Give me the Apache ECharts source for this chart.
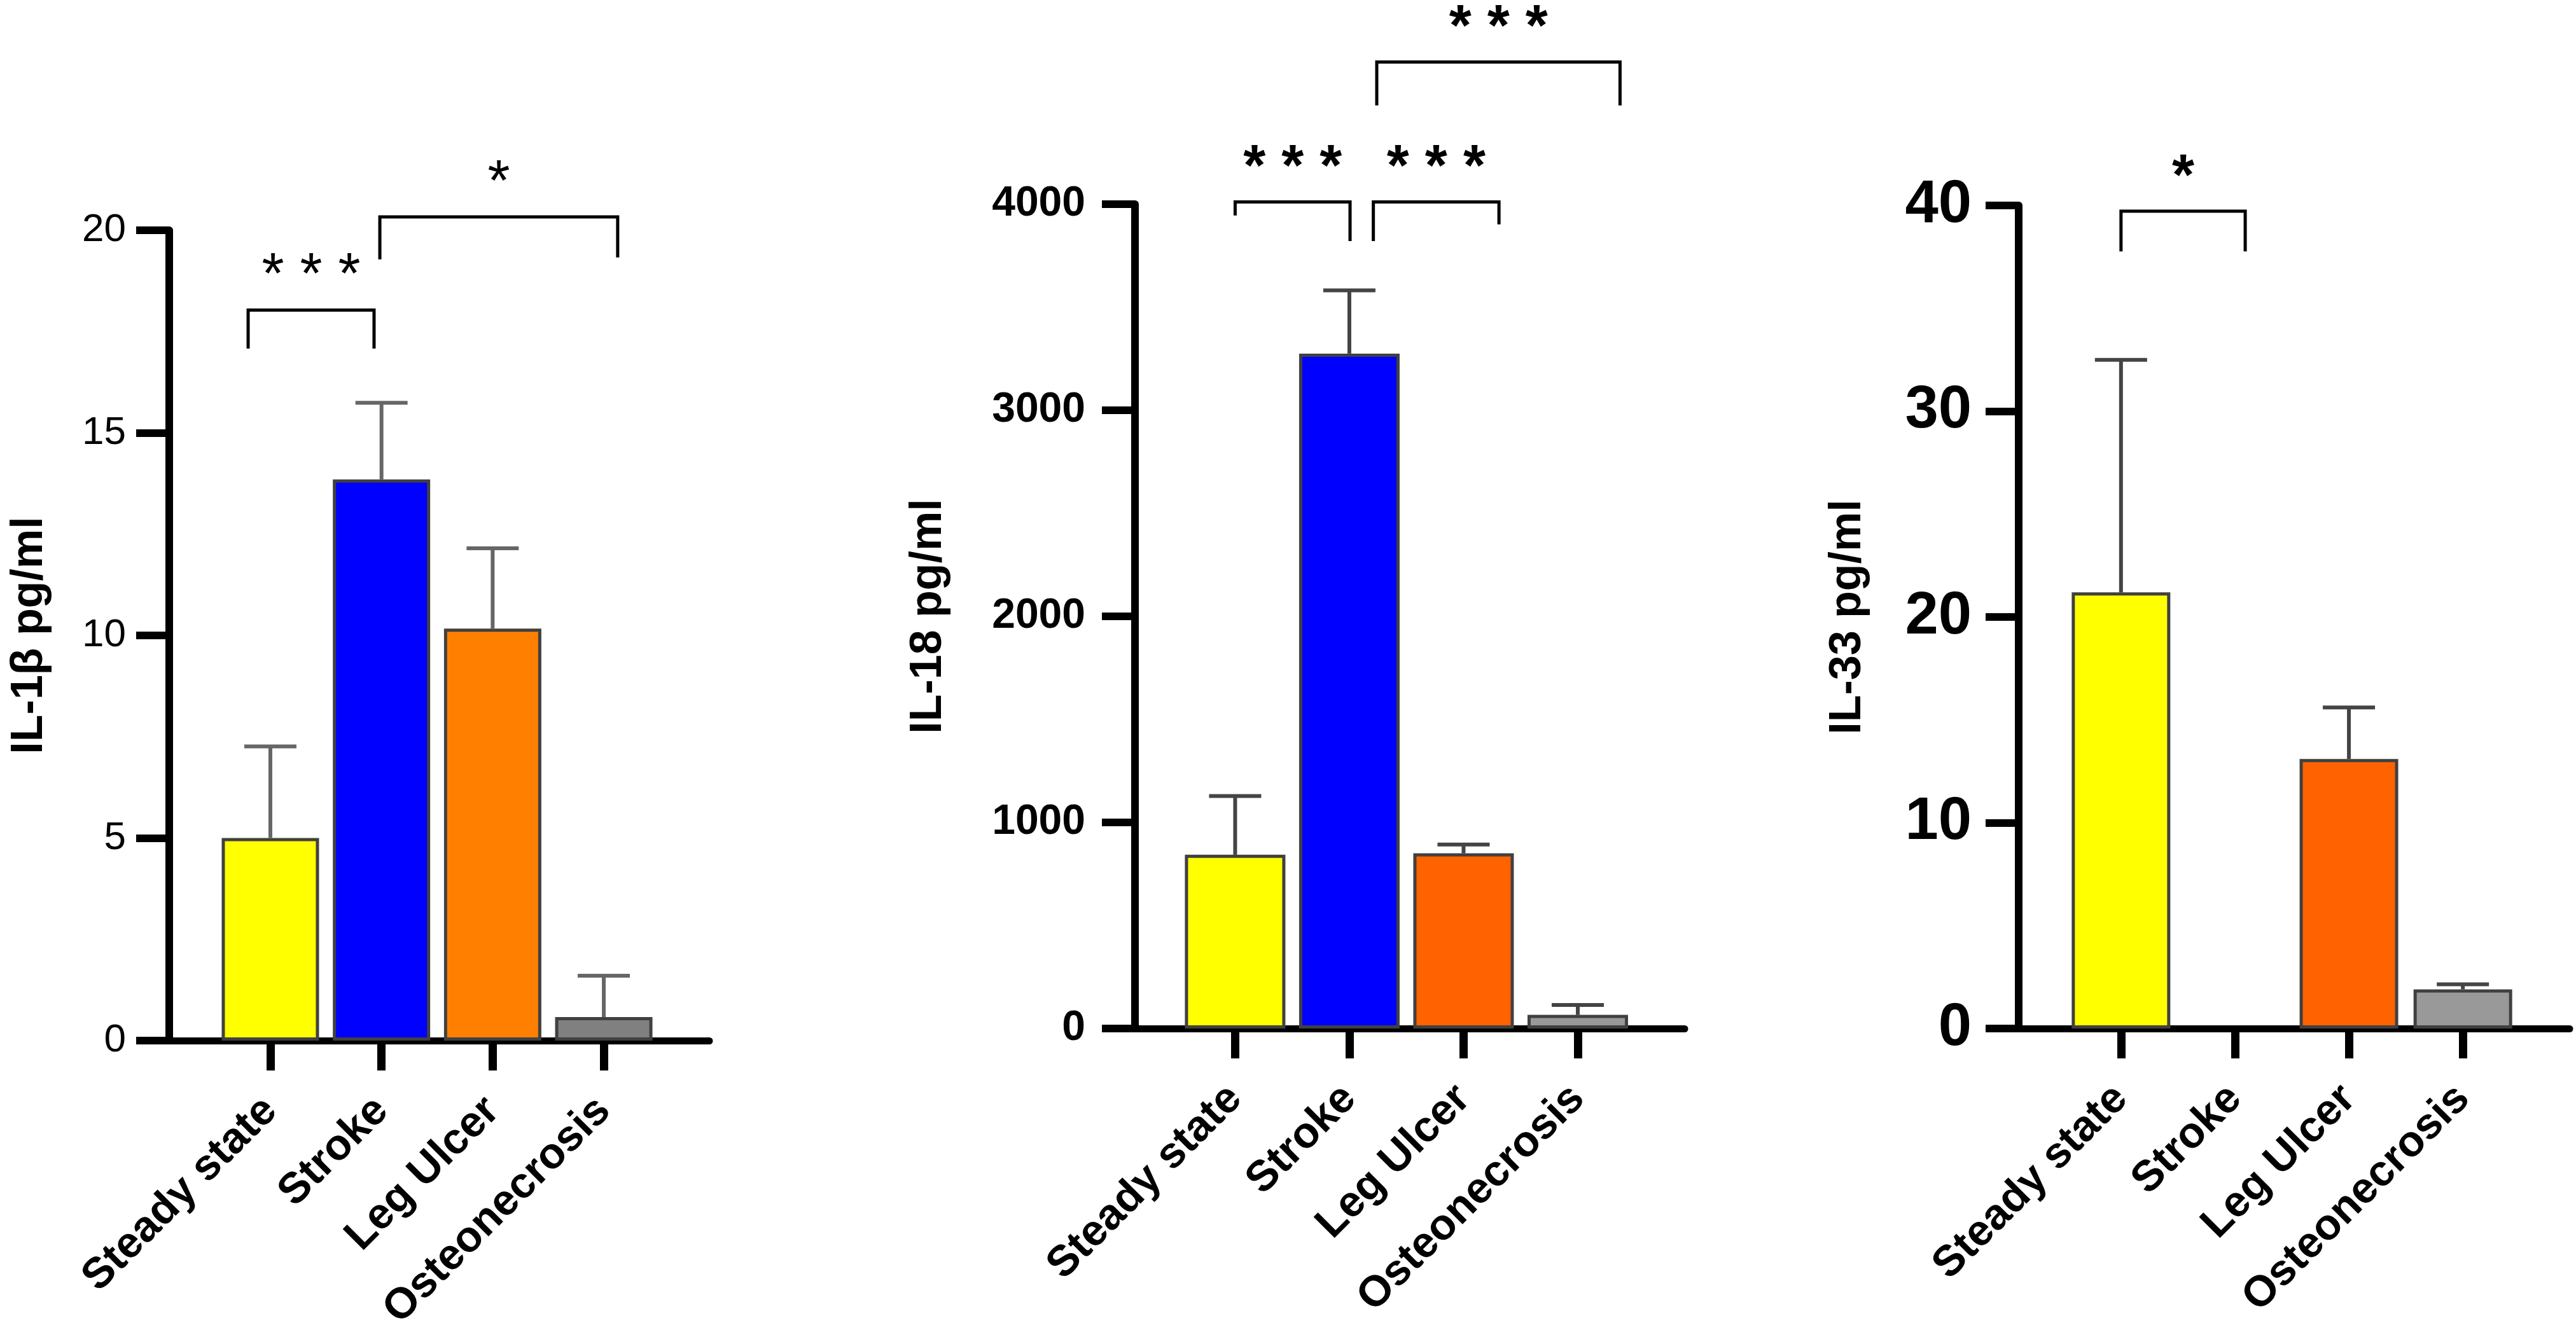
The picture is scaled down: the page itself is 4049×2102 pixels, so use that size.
<!DOCTYPE html>
<html>
<head>
<meta charset="utf-8">
<title>IL-1β / IL-18 / IL-33</title>
<script src="https://cdn.jsdelivr.net/npm/echarts@6/dist/echarts.min.js"></script>
<style>
  html, body { margin: 0; padding: 0; background: #fff; }
  #chart { width: 4049px; height: 2102px; }
</style>
</head>
<body>
<div id="chart"></div>
<script>
// --- data ---
const categories = ['Steady state', 'Stroke', 'Leg Ulcer', 'Osteonecrosis'];

const il1bMean  = [5.0, 13.85, 10.17, 0.58];
const il1bUpper = [7.26, 15.74, 12.15, 1.6];
const il1bTicks = [0, 20, 5];            // min, max, interval
// [fromX, toX, top, leftLegEnd, rightLegEnd, stars]
const il1bBrackets = [
  [-0.2, 0.933, 18.03, 17.08, 17.08, 3],
  [0.985, 3.125, 20.33, 19.28, 19.33, 1]
];

const il18Mean  = [843, 3275, 850, 66];
const il18Upper = [1128, 3582, 893, 114];
const il18Ticks = [0, 4000, 1000];
const il18Brackets = [
  [0.0, 1.006, 4011, 3945, 3821, 3],
  [1.21, 2.31, 4011, 3821, 3902, 3],
  [1.24, 3.37, 4690, 4479, 4479, 3]
];

const il33Mean  = [21.2, 0, 13.1, 1.9];
const il33Upper = [32.5, null, 15.6, 2.15];
const il33Ticks = [0, 40, 10];
const il33Brackets = [
  [0.0, 1.09, 39.72, 37.77, 37.77, 1]
];

const colorsA = ['#FFFF00', '#0000FF', '#FF8000', '#808080'];
const colorsB = ['#FFFF00', '#0000FF', '#FF6200', '#999999'];

// --- layout of the three panels (pixels) ---
const FONT = '"Liberation Sans", Arial, Helvetica, sans-serif';
const panels = [
  {
    name: 'IL-1β pg/ml', mean: il1bMean, upper: il1bUpper, ticks: il1bTicks,
    brackets: il1bBrackets, colors: colorsA,
    left: 266, top: 362, width: 849, height: 1274, xmin: -0.91, xmax: 3.95,
    barWidth: 153, tickFont: 62, tickWeight: 'normal', labelWeight: 'bold',
    labelMargin: 68, nameGap: 184, starWeight: 'normal', errColor: '#666'
  },
  {
    name: 'IL-18 pg/ml', mean: il18Mean, upper: il18Upper, ticks: il18Ticks,
    brackets: il18Brackets, colors: colorsB,
    left: 1784, top: 321, width: 864, height: 1296, xmin: -0.877, xmax: 3.936,
    barWidth: 158, tickFont: 66, tickWeight: 'bold', labelWeight: 'bold',
    labelMargin: 78, nameGap: 289, starWeight: 'bold', errColor: '#444'
  },
  {
    name: 'IL-33 pg/ml', mean: il33Mean, upper: il33Upper, ticks: il33Ticks,
    brackets: il33Brackets, colors: colorsB,
    left: 3173, top: 323, width: 866, height: 1294, xmin: -0.898, xmax: 3.937,
    barWidth: 155, tickFont: 94, tickWeight: 'bold', labelWeight: 'bold',
    labelMargin: 74, nameGap: 233, starWeight: 'bold', errColor: '#444'
  }
];

const grid = [], xAxis = [], yAxis = [], series = [];

panels.forEach((p, k) => {
  grid.push({ left: p.left, top: p.top, width: p.width, height: p.height });

  xAxis.push({
    type: 'value', gridIndex: k, min: p.xmin, max: p.xmax,
    splitLine: { show: false },
    axisLine: { show: true, onZero: false, lineStyle: { color: '#000', width: 11 } },
    axisTick: { show: true, customValues: [0, 1, 2, 3], length: 47, lineStyle: { color: '#000', width: 13 } },
    axisLabel: {
      customValues: [0, 1, 2, 3], rotate: 45, margin: 100,
      formatter: v => categories[Math.round(v)],
      fontFamily: FONT, fontSize: 68, fontWeight: p.labelWeight, color: '#000'
    }
  });

  yAxis.push({
    type: 'value', gridIndex: k, min: p.ticks[0], max: p.ticks[1], interval: p.ticks[2],
    splitLine: { show: false },
    axisLine: { show: true, onZero: false, lineStyle: { color: '#000', width: 12 } },
    axisTick: { show: true, length: 52, lineStyle: { color: '#000', width: 12 } },
    axisLabel: {
      margin: p.labelMargin, fontFamily: FONT, fontSize: p.tickFont,
      fontWeight: p.tickWeight, color: '#000',
      formatter: v => String(v)
    },
    name: p.name, nameLocation: 'middle', nameRotate: 90, nameGap: p.nameGap,
    nameTextStyle: { fontFamily: FONT, fontSize: 70, fontWeight: 'bold', color: '#000' }
  });

  series.push({
    type: 'bar', xAxisIndex: k, yAxisIndex: k, barWidth: p.barWidth, z: 2,
    data: p.mean.map((m, i) => ({
      value: [i, m],
      itemStyle: { color: p.colors[i], borderColor: '#404040', borderWidth: m > 0 ? 5 : 0 }
    }))
  });

  series.push({
    type: 'custom', xAxisIndex: k, yAxisIndex: k, z: 3, clip: false,
    encode: { x: 0, y: [1, 2] },
    data: p.mean.map((m, i) => [i, m, p.upper[i] == null ? NaN : p.upper[i]]),
    renderItem: (params, api) => {
      const hi = api.value(2);
      if (isNaN(hi)) return;
      const a = api.coord([api.value(0), api.value(1)]);
      const b = api.coord([api.value(0), hi]);
      const st = { stroke: p.errColor, lineWidth: 6 };
      return {
        type: 'group', children: [
          { type: 'line', shape: { x1: a[0], y1: a[1], x2: b[0], y2: b[1] }, style: st },
          { type: 'line', shape: { x1: b[0] - 41, y1: b[1], x2: b[0] + 41, y2: b[1] }, style: st }
        ]
      };
    }
  });

  series.push({
    type: 'custom', xAxisIndex: k, yAxisIndex: k, z: 4, clip: false,
    encode: { x: [0, 1], y: [2, 3, 4] },
    data: p.brackets,
    renderItem: (params, api) => {
      const a = api.coord([api.value(0), api.value(2)]);
      const b = api.coord([api.value(1), api.value(2)]);
      const la = api.coord([api.value(0), api.value(3)]);
      const rb = api.coord([api.value(1), api.value(4)]);
      const stars = new Array(api.value(5)).fill('*').join(' ');
      return {
        type: 'group', children: [
          {
            type: 'polyline',
            shape: { points: [la, a, b, rb] },
            style: { stroke: '#000', lineWidth: 5, fill: null }
          },
          {
            type: 'text',
            style: {
              text: stars, x: (a[0] + b[0]) / 2, y: a[1] - 51,
              fill: '#000', fontFamily: FONT, fontSize: 90, fontWeight: p.starWeight,
              align: 'center', verticalAlign: 'middle'
            }
          }
        ]
      };
    }
  });
});

const chart = echarts.init(document.getElementById('chart'), null, { renderer: 'canvas' });
chart.setOption({
  backgroundColor: '#fff',
  animation: false,
  grid: grid,
  xAxis: xAxis,
  yAxis: yAxis,
  series: series
});
</script>
</body>
</html>
